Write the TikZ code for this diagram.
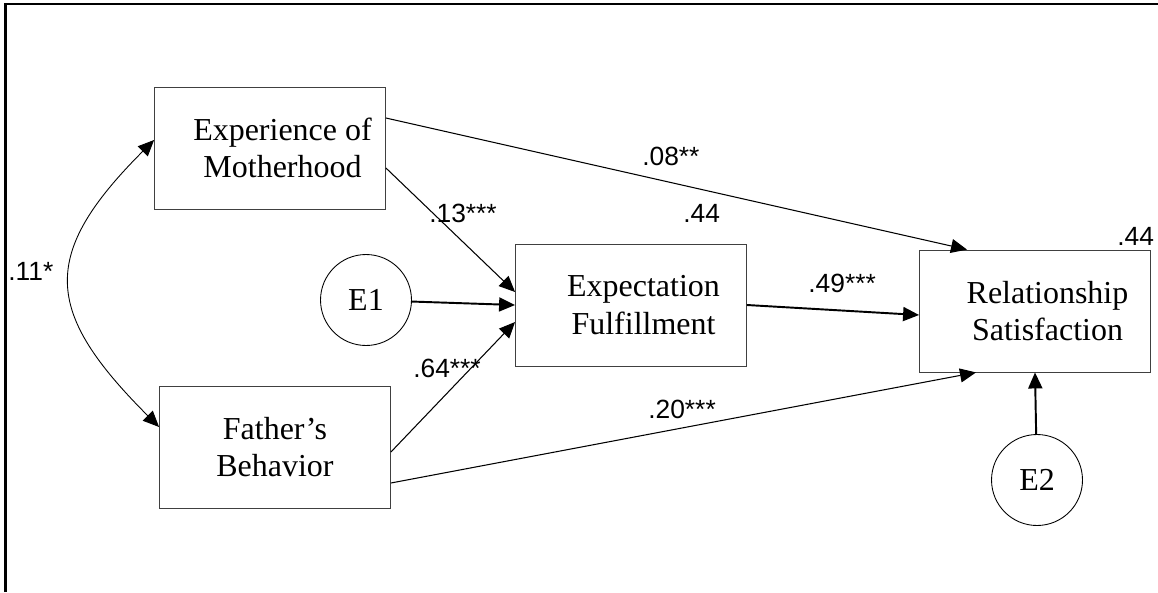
\documentclass[tikz,border=0pt]{standalone}
\usepackage{fontspec}
\setmainfont{Liberation Serif}
\newfontfamily\arialfont{Liberation Sans}
\usetikzlibrary{arrows.meta,positioning}
\newcommand{\ind}{\hspace*{0.5cm}}

\begin{document}
\begin{tikzpicture}[x=0.02cm,y=-0.02cm,>={Triangle[length=0.32cm,width=0.28cm]},
  box/.style={draw=black!75,line width=0.5pt,minimum width=4.62cm,minimum height=2.44cm,align=center,font=\fontsize{18.2}{21.5}\selectfont},
  err/.style={draw,circle,line width=0.5pt,minimum size=1.82cm,inner sep=0pt,font=\fontsize{18.2}{21.5}\selectfont},
  coef/.style={anchor=base west,inner sep=0pt,font=\arialfont\fontsize{15}{17}\selectfont},
  lnk/.style={->,line width=0.6pt},lnkb/.style={->,line width=1.1pt}]
\useasboundingbox (0,0) rectangle (1158,592);
\draw[line width=1.2pt] (5.5,592)--(5.5,4)--(1158,4);
\node[box] (mot) at (270,148) {\ind Experience of\\\ind Motherhood};
\node[box] (fat) at (275,447) {Father’s\\Behavior};
\node[box] (exf) at (631,305) {\ind Expectation\\\ind Fulfillment};
\node[box] (rel) at (1035,311) {\ind Relationship\\\ind Satisfaction};
\node[err] (e1) at (366,300) {E1};
\node[err] (e2) at (1037,480) {E2};
\draw[lnk] ([yshift=0.6cm]mot.east) -- ([xshift=-1.36cm]rel.north);
\draw[lnk] ([yshift=-0.4cm]mot.east) -- ([yshift=0.26cm]exf.west);
\draw[lnkb] (e1) -- (exf.west);
\draw[lnk] ([yshift=-0.1cm]fat.east) -- ([yshift=-0.34cm]exf.west);
\draw[lnk] ([yshift=-0.72cm]fat.east) -- ([xshift=-1.18cm]rel.south);
\draw[lnkb] (exf.east) -- ([yshift=-0.08cm]rel.west);
\draw[lnkb] (e2) -- (rel.south);
\draw[<->,line width=0.5pt] ([yshift=0.16cm]mot.west) to[out=225,in=135,looseness=1.45] ([yshift=0.4cm]fat.west);
\node[coef] (c11) at (8,280) {.11*};
\node[coef] (c08) at (642,165) {.08**};
\node[coef] (c13) at (429,222) {.13***};
\node[coef] (r1) at (683,222) {.44};
\node[coef] (c64) at (413,377) {.64***};
\node[coef] (c20) at (648,418) {.20***};
\node[coef] (c49) at (808,292) {.49***};
\node[coef] (r2) at (1117,245) {.44};
\end{tikzpicture}
\end{document}
